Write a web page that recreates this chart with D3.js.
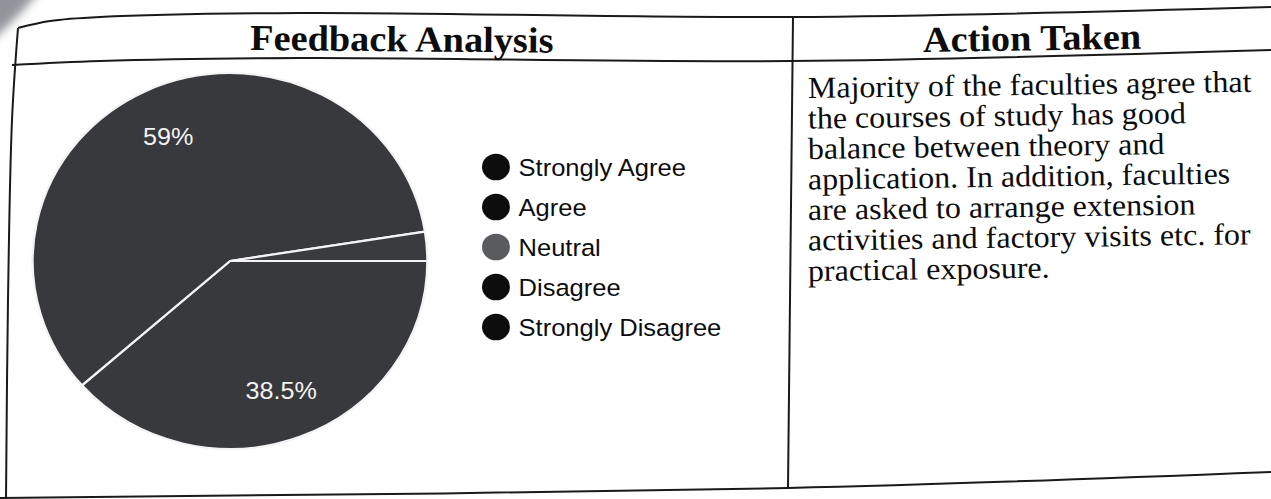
<!DOCTYPE html>
<html>
<head>
<meta charset="utf-8">
<script src="https://cdn.jsdelivr.net/npm/d3@7"></script>
<style>
  html, body { margin: 0; padding: 0; background: #ffffff; }
  svg { display: block; }
</style>
</head>
<body>
<svg id="chart" width="1271" height="499"></svg>
<script>
// ---- data ----
const categories = ["Strongly Agree", "Agree", "Neutral", "Disagree", "Strongly Disagree"];
const values = [38.5, 59, 2.5, 0, 0];
const sliceColors = ["#38393d", "#38393d", "#3a3b3f", "#38393d", "#38393d"];
const legendColors = ["#0d0d0d", "#0d0d0d", "#5a5b5f", "#0d0d0d", "#0d0d0d"];
const headers = ["Feedback Analysis", "Action Taken"];
const actionLines = [
  "Majority of the faculties agree that",
  "the courses of study has good",
  "balance between theory and",
  "application. In addition, faculties",
  "are asked to arrange extension",
  "activities and factory visits etc. for",
  "practical exposure."
];

const svg = d3.select("#chart");
const SX = 1.05; // horizontal stretch of the scan

// ---- scan shadow in top-left corner ----
const defs = svg.append("defs");
const blur = defs.append("filter").attr("id", "blur").attr("x", "-50%").attr("y", "-50%").attr("width", "200%").attr("height", "200%");
blur.append("feGaussianBlur").attr("stdDeviation", 5);
svg.append("path")
  .attr("d", "M-10,-10 L40,-10 Q24,12 -10,42 Z")
  .attr("fill", "#767982")
  .attr("filter", "url(#blur)")
  .attr("opacity", 0.8);

// ---- table borders ----
const border = d3.line().curve(d3.curveCatmullRom.alpha(0.5));
const borderGroup = svg.append("g").attr("fill", "none").attr("stroke", "#1a1a1a").attr("stroke-width", 2);
const topPts = [[18, 28], [50, 21], [100, 17], [300, 13], [790, 17], [1271, 7]];
const headPts = [[12, 65], [100, 61], [300, 58], [790, 61], [1271, 50]];
const leftPts = [[18, 28], [12, 120], [8, 300], [6, 499]];
const bottomPts = [[0, 498], [788, 488], [1271, 472]];
const dividerPts = [[793, 17], [788, 488]];
[topPts, headPts, leftPts, bottomPts, dividerPts].forEach(p => {
  borderGroup.append("path").attr("d", border(p));
});

// ---- headers ----
svg.append("text")
  .attr("transform", `translate(250,50) rotate(0.5) scale(${SX},1)`)
  .attr("font-family", "'Liberation Serif', 'Times New Roman', serif")
  .attr("font-weight", "bold")
  .attr("font-size", 36.5)
  .attr("fill", "#0d0d0d")
  .text(headers[0]);
svg.append("text")
  .attr("transform", `translate(923,52) rotate(-0.9) scale(${SX},1)`)
  .attr("font-family", "'Liberation Serif', 'Times New Roman', serif")
  .attr("font-weight", "bold")
  .attr("font-size", 36.5)
  .attr("fill", "#0d0d0d")
  .text(headers[1]);

// ---- action text ----
const lineY = d3.scalePoint().domain(d3.range(actionLines.length)).range([98, 281]);
const body = svg.append("g")
  .attr("font-family", "'Liberation Serif', 'Times New Roman', serif")
  .attr("font-size", 30.5)
  .attr("fill", "#0d0d0d");
body.selectAll("text").data(actionLines).join("text")
  .attr("transform", (d, i) => `translate(808,${lineY(i)}) rotate(-0.8) scale(${SX},1)`)
  .text(d => d);

// ---- pie ----
const cx = 230, cy = 261, R = 188;
const pie = d3.pie().sort(null).value(d => d.value)
  .startAngle(Math.PI / 2).endAngle(Math.PI / 2 + 2 * Math.PI);
const data = categories.map((c, i) => ({ cat: c, value: values[i], color: sliceColors[i] }));
const arcs = pie(data).filter(a => a.data.value > 0);
const arc = d3.arc().innerRadius(0).outerRadius(R);
const labelArc = d3.arc().innerRadius(R * 0.735).outerRadius(R * 0.735);
const pieG = svg.append("g").attr("transform", `translate(${cx},${cy}) scale(${SX},1)`);
pieG.selectAll("path").data(arcs).join("path")
  .attr("d", arc)
  .attr("fill", d => d.data.color)
  .attr("stroke", "#f4f4f4")
  .attr("stroke-width", 2.2)
  .attr("stroke-linejoin", "round");
pieG.selectAll("text").data(arcs.filter(a => a.data.value >= 5)).join("text")
  .attr("x", d => labelArc.centroid(d)[0])
  .attr("y", d => labelArc.centroid(d)[1])
  .attr("dy", "0.36em")
  .attr("text-anchor", "middle")
  .attr("font-family", "'Liberation Sans', Arial, sans-serif")
  .attr("font-size", 24)
  .attr("fill", "#f2f2f2")
  .text(d => d.data.value + "%");

// ---- legend ----
const legY = d3.scalePoint().domain(categories).range([167, 327]);
const leg = svg.append("g");
const items = leg.selectAll("g").data(categories).join("g")
  .attr("transform", d => `translate(496,${legY(d)}) scale(${SX},1)`);
items.append("circle")
  .attr("r", 13.3)
  .attr("fill", (d, i) => legendColors[i]);
items.append("text")
  .attr("x", 21.5)
  .attr("dy", "0.36em")
  .attr("font-family", "'Liberation Sans', Arial, sans-serif")
  .attr("font-size", 24.3)
  .attr("fill", "#0d0d0d")
  .text(d => d);
</script>
</body>
</html>
